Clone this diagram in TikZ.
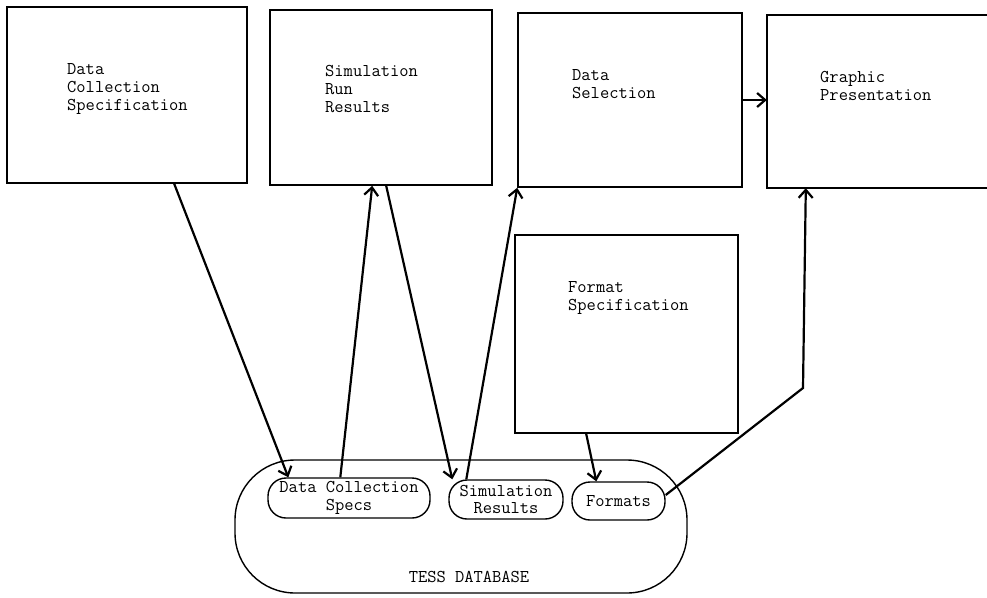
\documentclass[tikz,border=0pt]{standalone}
\usetikzlibrary{arrows.meta,calc}
\begin{document}
\begin{tikzpicture}[x=1pt,y=-1pt,
  box/.style={draw, line width=1.6pt, inner sep=0pt},
  pill/.style={draw, line width=1.4pt, rounded corners=18pt, inner sep=0pt, align=center,
     font=\ttfamily\fontsize{18}{17.5}\selectfont},
  txt/.style={font=\ttfamily\fontsize{18}{18}\selectfont, align=left, inner sep=0pt, anchor=north west},
  arr/.style={line width=2.2pt, -{Straight Barb[length=8pt,width=14pt]}}]
\fill[white] (0,0) rectangle (987,597);
\useasboundingbox (0,0) rectangle (987,597);

% top boxes
\node[box, minimum width=240pt, minimum height=176pt] (b1) at (127,95) {};
\node[box, minimum width=222pt, minimum height=175pt] (b2) at (381,97.5) {};
\node[box, minimum width=224pt, minimum height=174pt] (b3) at (630,100) {};
\node[minimum width=220pt, minimum height=173pt, inner sep=0pt] (b4) at (877,101.5) {};
\draw[line width=1.6pt] (b4.north east) -- (b4.north west) -- (b4.south west) -- (b4.south east);
\node[box, minimum width=223pt, minimum height=198pt] (b5) at (626.5,334) {};

% box texts
\node[txt] (t1) at (67,63) {Data\\Collection\\Specification};
\node[txt] (t2) at (325,65) {Simulation\\Run\\Results};
\node[txt] (t3) at (572,69) {Data\\Selection};
\node[txt] (t4) at (820,71) {Graphic\\Presentation};
\node[txt] (t5) at (568,281) {Format\\Specification};

% database
\node[draw, line width=1.4pt, rounded corners=60pt, minimum width=452pt, minimum height=133pt, inner sep=0pt] (db) at (461,526.5) {};
\node[pill, minimum width=162pt, minimum height=40pt] (p1) at (349,498) {Data Collection\\Specs};
\node[pill, minimum width=114pt, minimum height=39pt] (p2) at (506,499.5) {Simulation\\Results};
\node[pill, minimum width=93pt, minimum height=38pt] (p3) at (618.5,501) {Formats};
\node[font=\ttfamily\fontsize{18}{18}\selectfont, inner sep=0pt] (dbl) at (469,577) {TESS DATABASE};

% connector points
\coordinate (a1s) at ($(b1.south west)+(168,0)$);
\coordinate (a1e) at ($(p1.north west)+(21,0)$);
\coordinate (a2s) at ($(p1.north west)+(73,0)$);
\coordinate (a2e) at ($(b2.south west)+(103,0)$);
\coordinate (a3s) at ($(b2.south west)+(117,0)$);
\coordinate (a3e) at ($(p2.north west)+(4,0)$);
\coordinate (a4s) at ($(p2.north west)+(18,0)$);
\coordinate (a5s) at ($(b5.south west)+(72,0)$);
\coordinate (a5e) at ($(p3.north west)+(25,0)$);
\coordinate (a6s) at ($(p3.east)+(0,-6)$);
\coordinate (a6m) at (803,388);
\coordinate (a6e) at ($(b4.south west)+(39,0)$);

\draw[arr] (a1s) -- (a1e);
\draw[arr] (a2s) -- (a2e);
\draw[arr] (a3s) -- (a3e);
\draw[arr] (a4s) -- (b3.south west);
\draw[arr] (a5s) -- (a5e);
\draw[arr] (a6s) -- (a6m) -- (a6e);
\draw[arr] (b3.east) -- (b3.east -| b4.west);
\end{tikzpicture}
\end{document}
